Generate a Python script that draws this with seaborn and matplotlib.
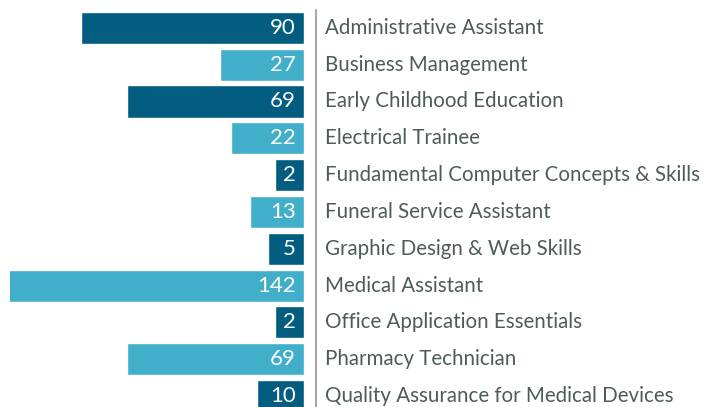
import numpy as np
import matplotlib
matplotlib.use('Agg')
import matplotlib.pyplot as plt
from matplotlib.lines import Line2D
import seaborn as sns

programs = ['Administrative Assistant', 'Business Management', 'Early Childhood Education',
            'Electrical Trainee', 'Fundamental Computer Concepts & Skills', 'Funeral Service Assistant',
            'Graphic Design & Web Skills', 'Medical Assistant', 'Office Application Essentials',
            'Pharmacy Technician', 'Quality Assurance for Medical Devices']
counts = [90, 27, 69, 22, 2, 13, 5, 142, 2, 69, 10]
bar_colors = ['#025d80', '#41afca'] * 6

sns.set_theme(style='white')
plt.rcParams['font.family'] = ['Lato', 'DejaVu Sans']

# bars get a fixed minimum length (room for the number), then grow linearly
K = 11.4
def fwd(v):
    v = np.asarray(v, dtype=float)
    return np.where(v > 0, v + K, v)
def inv(y):
    y = np.asarray(y, dtype=float)
    return np.where(y > K, y - K, y)

fig = plt.figure(figsize=(7.16, 4.07), dpi=100)
ax = fig.add_axes([10/716, -0.018, 294/716, 0.9767 + 0.018])

sns.barplot(x=counts, y=programs, hue=programs, palette=bar_colors[:len(programs)],
            width=0.87, saturation=1, legend=False, orient='h', ax=ax)
ax.set_xscale('function', functions=(fwd, inv))
ax.set_xlim(122.3, 0)
ax.axis('off')

for i, (name, n) in enumerate(zip(programs, counts)):
    ax.annotate(str(n), xy=(0, i), xytext=(-8, 0), textcoords='offset pixels',
                ha='right', va='center', color='white', fontsize=16)
    ax.annotate(name, xy=(0, i), xytext=(21, 0), textcoords='offset pixels',
                ha='left', va='center', color='#4e5c59', fontsize=14.8,
                annotation_clip=False)

fig.add_artist(Line2D([316/716, 316/716], [1 - 10/407, 0], transform=fig.transFigure,
                      color='#a8a8a8', lw=1.5))

fig.savefig('out.png', dpi=100)
